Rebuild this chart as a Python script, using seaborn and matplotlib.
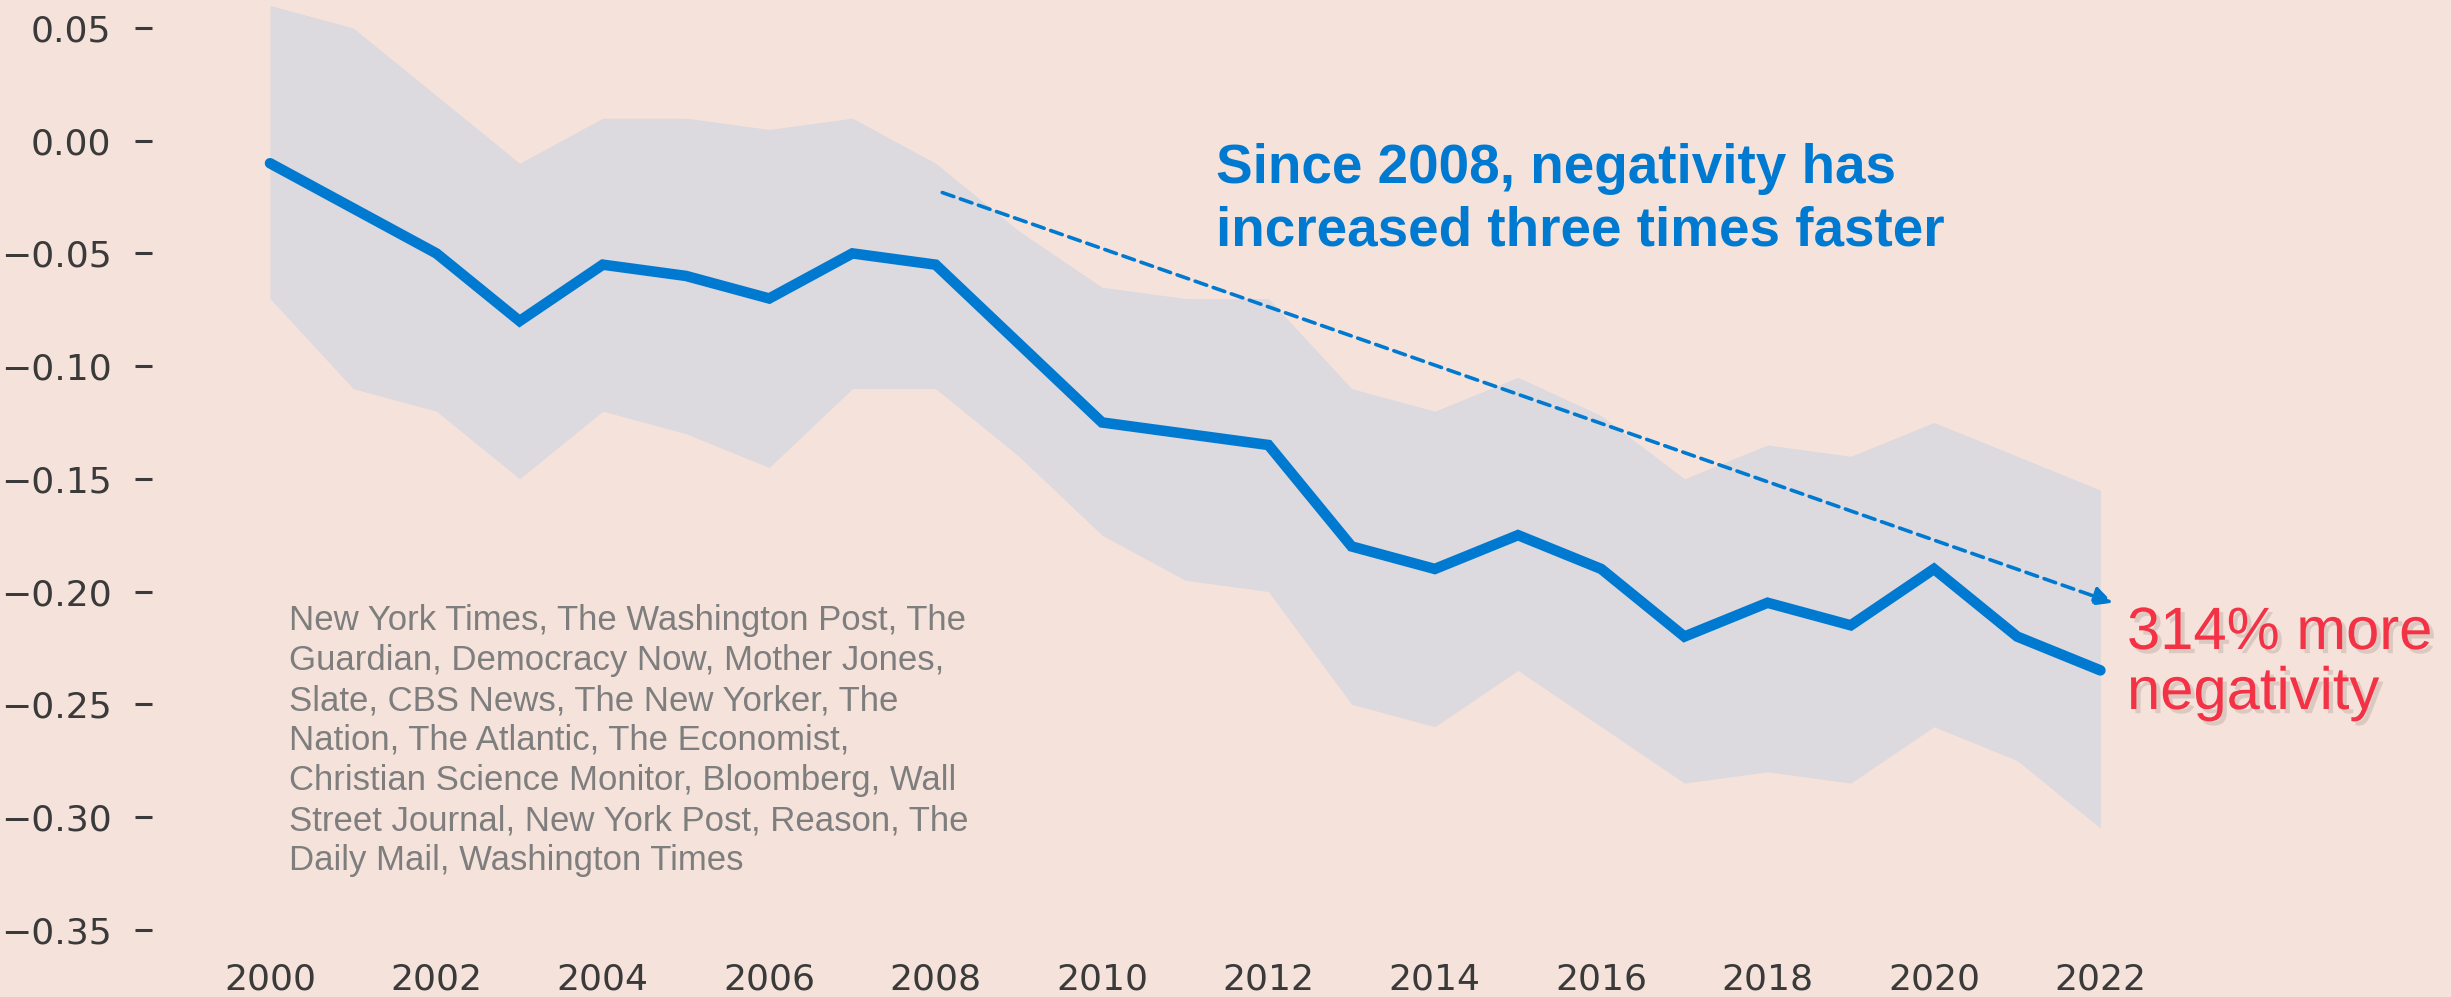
import numpy as np
import matplotlib
matplotlib.use('Agg')
import matplotlib.pyplot as plt
import matplotlib.patheffects as pe
from matplotlib.ticker import FuncFormatter
import seaborn as sns

# ---- data ----
years = list(range(2000, 2023))
mean_sent = [-0.010, -0.030, -0.050, -0.080, -0.055, -0.060, -0.070, -0.050, -0.055, -0.090,
             -0.125, -0.130, -0.135, -0.180, -0.190, -0.175, -0.190, -0.220, -0.205, -0.215,
             -0.190, -0.220, -0.235]
upper = [0.060, 0.050, 0.020, -0.010, 0.010, 0.010, 0.005, 0.010, -0.010, -0.040,
         -0.065, -0.070, -0.070, -0.110, -0.120, -0.105, -0.122, -0.150, -0.135, -0.140,
         -0.125, -0.140, -0.155]
lower = [-0.070, -0.110, -0.120, -0.150, -0.120, -0.130, -0.145, -0.110, -0.110, -0.140,
         -0.175, -0.195, -0.200, -0.250, -0.260, -0.235, -0.260, -0.285, -0.280, -0.285,
         -0.260, -0.275, -0.305]
x_ticks = list(range(2000, 2023, 2))
y_ticks = [0.05, 0.00, -0.05, -0.10, -0.15, -0.20, -0.25, -0.30, -0.35]

trend_start = (2008.08, -0.023)
trend_end = (2022.15, -0.205)

outlets = [
    "New York Times, The Washington Post, The",
    "Guardian, Democracy Now, Mother Jones,",
    "Slate, CBS News, The New Yorker, The",
    "Nation, The Atlantic, The Economist,",
    "Christian Science Monitor, Bloomberg, Wall",
    "Street Journal, New York Post, Reason, The",
    "Daily Mail, Washington Times",
]
headline = ["Since 2008, negativity has", "increased three times faster"]
callout = ["314% more", "negativity"]

# ---- style ----
BG = '#F5E3DB'
BAND = '#DCD9DF'
BLUE = '#0079D1'
RED = '#F43246'
GREY = '#7E7E7E'
TICK = '#3A3A3A'

sns.set_theme(style='white')
plt.rcParams['font.family'] = ['DejaVu Sans']

W, H = 2451, 997
fig = plt.figure(figsize=(W / 100, H / 100), dpi=100, facecolor=BG)
ax = fig.add_axes([152 / W, (H - 950) / H, (W - 152) / W, 950 / H])
ax.set_facecolor(BG)

ax.fill_between(years, lower, upper, color=BAND, linewidth=0, zorder=1)
sns.lineplot(x=years, y=mean_sent, color=BLUE, linewidth=7.6, ax=ax,
             solid_capstyle='round', solid_joinstyle='miter', zorder=3)

# dashed trend arrow
ax.annotate('', xy=trend_end, xytext=trend_start,
            arrowprops=dict(arrowstyle='-|>', color=BLUE, lw=2.6,
                            linestyle=(0, (3.4, 1.9)), mutation_scale=28,
                            shrinkA=0, shrinkB=0), zorder=4)

# axes limits so the years / values land where they do in the original
px_year = 83.2
ax.set_xlim(2000 - (270 - 152) / px_year, 2000 + (W - 270) / px_year)
ax.set_ylim(-(950 - 140.7) / 2254, 140.7 / 2254)

ax.set_xticks(x_ticks)
ax.set_yticks(y_ticks)
ax.yaxis.set_major_formatter(FuncFormatter(
    lambda v, _: f'{round(v, 2) + 0.0:.2f}'.replace('-', '\u2212')))
ax.tick_params(axis='y', left=True, length=12.2, width=2.2, color=TICK,
               pad=17, labelsize=26, labelcolor=TICK, direction='out')
ax.tick_params(axis='x', bottom=False, length=0, pad=9, labelsize=26,
               labelcolor=TICK)
ax.set_xlabel('')
ax.set_ylabel('')
ax.grid(False)
sns.despine(ax=ax, left=True, bottom=True)

# ---- annotations (positions in figure pixels) ----
def fx(px):
    return px / W

def fy(py):
    return 1 - py / H

for i, line in enumerate(headline):
    fig.text(fx(1216), fy(183 + 63 * i), line, color=BLUE, fontsize=39.5,
             fontweight='bold', family=['Liberation Sans', 'DejaVu Sans'],
             va='baseline', ha='left')

shadow = [pe.SimplePatchShadow(offset=(3, -3), shadow_rgbFace='#8a7a74', alpha=0.25),
          pe.Normal()]
for i, line in enumerate(callout):
    fig.text(fx(2127), fy(649 + 60 * i), line, color=RED, fontsize=43,
             family=['Liberation Sans', 'DejaVu Sans'], va='baseline', ha='left',
             path_effects=shadow)

for i, line in enumerate(outlets):
    fig.text(fx(289), fy(630 + 40 * i), line, color=GREY, fontsize=25,
             family=['Liberation Sans', 'DejaVu Sans'], va='baseline', ha='left')

fig.savefig('out.png', dpi=100, facecolor=BG)
